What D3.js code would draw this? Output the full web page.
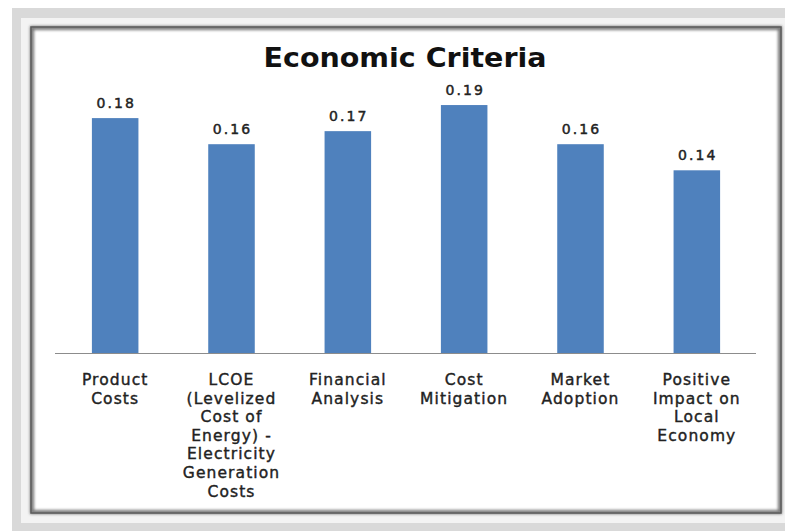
<!DOCTYPE html>
<html><head><meta charset="utf-8">
<script src="https://cdn.jsdelivr.net/npm/d3@7/dist/d3.min.js"></script>
<style>html,body{margin:0;padding:0;background:#fff;}svg{display:block;}</style>
</head><body>
<script>
const categories = [
  ["Product","Costs"],
  ["LCOE","(Levelized","Cost of","Energy) -","Electricity","Generation","Costs"],
  ["Financial","Analysis"],
  ["Cost","Mitigation"],
  ["Market","Adoption"],
  ["Positive","Impact on","Local","Economy"]
];
const values = [0.18, 0.16, 0.17, 0.19, 0.16, 0.14];
const valueLabels = ["0.18","0.16","0.17","0.19","0.16","0.14"];
const title = "Economic Criteria";

const W = 785, H = 531;
const svg = d3.select("body").append("svg").attr("width", W).attr("height", H);
const defs = svg.append("defs");
const f = defs.append("filter").attr("id","blur").attr("x","-5%").attr("y","-5%").attr("width","110%").attr("height","110%");
f.append("feGaussianBlur").attr("stdDeviation",1.6);

// frame
svg.append("rect").attr("x",12).attr("y",8).attr("width",773).attr("height",523).attr("fill","#d9d9d9");
svg.append("rect").attr("x",21).attr("y",18).attr("width",764).attr("height",505).attr("fill","#f3f3f3");
svg.append("rect").attr("x",31).attr("y",27).attr("width",750).attr("height",486).attr("fill","#fff");
svg.append("rect").attr("x",32).attr("y",28).attr("width",748).attr("height",484)
  .attr("fill","none").attr("stroke","#777").attr("stroke-width",4).attr("filter","url(#blur)");
svg.append("rect").attr("x",31).attr("y",27).attr("width",750).attr("height",486)
  .attr("fill","none").attr("stroke","#5a5a5a").attr("stroke-width",1.5);

const idx = d3.range(values.length);
const x = d3.scaleBand().domain(idx).range([57, 755]).paddingInner(0.6).paddingOuter(0.3);
const y = d3.scaleLinear().domain([0, 0.2]).range([353, 353 - 1305*0.2]);

svg.append("text").attr("x", 405).attr("y", 67).attr("text-anchor","middle")
  .attr("font-family","DejaVu Sans, Verdana, sans-serif").attr("font-weight","bold")
  .attr("font-size",26).attr("fill","#111")
  .attr("textLength",283).attr("lengthAdjust","spacingAndGlyphs").text(title);

svg.append("g").selectAll("rect").data(values).join("rect")
  .attr("x",(d,i)=>x(i)).attr("width",x.bandwidth())
  .attr("y",d=>y(d)).attr("height",d=>y(0)-y(d)).attr("fill","#4f81bd");

svg.append("line").attr("x1",55).attr("x2",756).attr("y1",353.5).attr("y2",353.5)
  .attr("stroke","#8c8c8c").attr("stroke-width",1);

svg.append("g").selectAll("text").data(values).join("text")
  .attr("x",(d,i)=>x(i)+x.bandwidth()/2 + 1).attr("y",d=>y(d)-10)
  .attr("text-anchor","middle").attr("font-family","DejaVu Sans, Verdana, sans-serif")
  .attr("font-size",14).attr("letter-spacing",2.1).attr("fill","#222")
  .attr("stroke","#222").attr("stroke-width",0.45)
  .text((d,i)=>valueLabels[i]);

const lab = svg.append("g").selectAll("text").data(categories).join("text")
  .attr("text-anchor","middle").attr("font-family","DejaVu Sans, Verdana, sans-serif")
  .attr("font-size",15.5).attr("letter-spacing",1.1).attr("fill","#222")
  .attr("stroke","#222").attr("stroke-width",0.4);
lab.each(function(lines,i){
  const t = d3.select(this);
  lines.forEach((l,j)=>{
    t.append("tspan").attr("x", x(i)+x.bandwidth()/2).attr("y", 385 + j*18.6).text(l);
  });
});
</script>
</body></html>
